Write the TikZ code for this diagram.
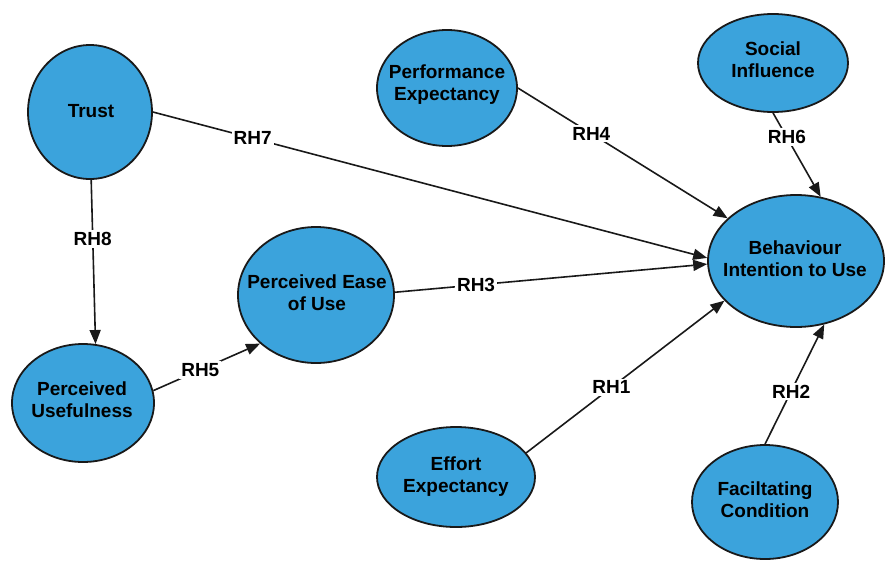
\documentclass[tikz,border=0pt]{standalone}
\usepackage{fontspec}
\setmainfont{Liberation Sans}
\usetikzlibrary{arrows.meta,shapes.geometric}
\definecolor{nodeblue}{RGB}{59,163,220}

\begin{document}
\begin{tikzpicture}[
  x=1pt, y=-1pt,
  font=\fontsize{19}{22}\selectfont\bfseries,
  construct/.style={ellipse, draw=black!90, line width=1.8pt, fill=nodeblue, inner sep=0pt},
  ctext/.style={align=center, inner sep=0pt},
  hyp/.style={-{Triangle[length=14pt,width=11pt]}, line width=1.6pt, draw=black!90},
  rh/.style={fill=white, inner sep=2pt}
]

\useasboundingbox (0,0) rectangle (885,560);

% Constructs of the model, ellipses first and their names on top.
\node[construct, minimum width=124pt, minimum height=134pt] (trust) at (90,112) {};
\node[construct, minimum width=140pt, minimum height=116pt] (pe) at (447,88) {};
\node[construct, minimum width=150pt, minimum height=98pt] (si) at (773,63) {};
\node[construct, minimum width=176pt, minimum height=132pt] (bi) at (796,261) {};
\node[construct, minimum width=156pt, minimum height=136pt] (peu) at (316,295) {};
\node[construct, minimum width=142pt, minimum height=118pt] (pu) at (83,403) {};
\node[construct, minimum width=158pt, minimum height=100pt] (ee) at (456,477) {};
\node[construct, minimum width=146pt, minimum height=114pt] (fc) at (765,502) {};

\node[ctext] (trust-t) at (91,111) {Trust};
\node[ctext] (pe-t) at (447,85) {Performance\\Expectancy};
\node[ctext] (si-t) at (773,60) {Social\\Influence};
\node[ctext] (bi-t) at (795,259) {Behaviour\\Intention to Use};
\node[ctext] (peu-t) at (317,293) {Perceived Ease\\of Use};
\node[ctext] (pu-t) at (82,400) {Perceived\\Usefulness};
\node[ctext] (ee-t) at (456,477) {Effort\\Expectancy};
\node[ctext] (fc-t) at (765,500) {Faciltating\\Condition};

% Hypothesised paths.
\draw[hyp] (trust.east) -- node[rh, pos=0.18] (rh7) {RH7} (bi.178);
\draw[hyp] (trust.271) -- node[rh, pos=0.36] (rh8) {RH8} (pu.78);
\draw[hyp] (pu.10) -- node[rh, pos=0.44] (rh5) {RH5} (peu.221);
\draw[hyp] (peu.2) -- node[rh, pos=0.26] (rh3) {RH3} (bi.182);
\draw[hyp] (pe.east) -- node[rh, pos=0.35] (rh4) {RH4} (bi.148);
\draw[hyp] (si.south) -- node[rh, pos=0.29] (rh6) {RH6} (bi.69);
\draw[hyp] (ee.19) -- node[rh, pos=0.43] (rh1) {RH1} (bi.209);
\draw[hyp] (fc.north) -- node[rh, pos=0.44] (rh2) {RH2} (bi.294);

\end{tikzpicture}
\end{document}
